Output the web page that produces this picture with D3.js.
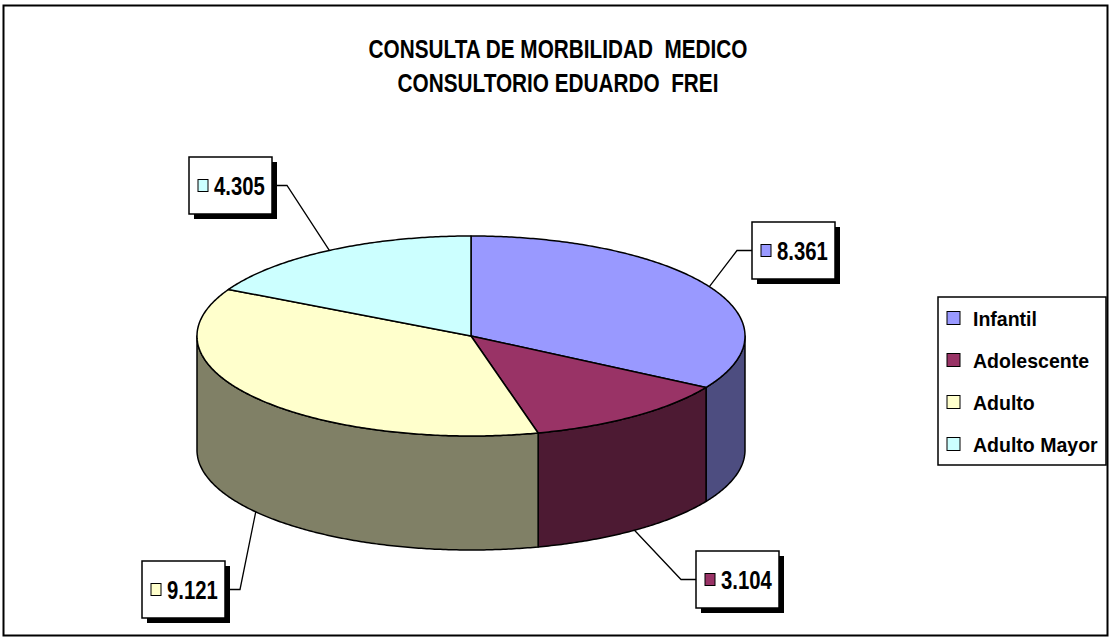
<!DOCTYPE html>
<html>
<head>
<meta charset="utf-8">
<script src="https://cdn.jsdelivr.net/npm/d3@7"></script>
<style>
  body { margin: 0; background: #fff; }
  text { font-family: 'Liberation Sans', Arial, sans-serif; font-weight: bold; fill: #000; white-space: pre; }
</style>
</head>
<body>
<svg id="chart" width="1113" height="638"></svg>
<script>
// data
var categories = ['Infantil', 'Adolescente', 'Adulto', 'Adulto Mayor'];
var values = [8361, 3104, 9121, 4305];
var valueLabels = ['8.361', '3.104', '9.121', '4.305'];
var titleLines = ['CONSULTA DE MORBILIDAD  MEDICO', 'CONSULTORIO EDUARDO  FREI'];

var topColors = ['#9999FF', '#993366', '#FFFFCC', '#CCFFFF'];
var sideColors = ['#4D4D80', '#4D1A33', '#808066', '#668080'];

// pie geometry (3d tilted disc)
var cx = 471, cy = 336, rx = 274, ry = 100, depth = 114;
// where the data label boxes sit (top-left corners)
var labelBoxes = [[752, 222], [696, 551], [142, 561], [189, 157]];
var boxW = 83, boxH = 57;

var svg = d3.select('#chart');

// outer frame
svg.append('rect')
  .attr('x', 3.5).attr('y', 5.5)
  .attr('width', 1104).attr('height', 630)
  .style('fill', '#fff').style('stroke', '#000').style('stroke-width', 2);

// title
svg.append('g').selectAll('text')
  .data(titleLines)
  .enter()
  .append('text')
  .attr('text-anchor', 'middle')
  .attr('transform', function (d, i) { return 'translate(558,' + (58 + i * 34) + ') scale(0.83,1)'; })
  .style('font-size', '25px')
  .text(function (d) { return d; });

// scales: unit circle -> ellipse on screen
var x = d3.scaleLinear().domain([-1, 1]).range([cx - rx, cx + rx]);
var y = d3.scaleLinear().domain([-1, 1]).range([cy - ry, cy + ry]);

function pt(a, dy) {
  return [x(Math.sin(a)), y(-Math.cos(a)) + (dy || 0)];
}
function arcPts(a0, a1, dy) {
  var n = Math.max(2, Math.ceil(Math.abs(a1 - a0) / 0.01));
  return d3.range(n + 1).map(function (i) { return pt(a0 + (a1 - a0) * i / n, dy); });
}

var arcs = d3.pie().sort(null).startAngle(0).endAngle(2 * Math.PI)(values);
var line = d3.line();

// side walls, only the front half (pi/2 .. 3pi/2) is visible
var sides = svg.append('g');
arcs.forEach(function (d, i) {
  var s = Math.max(d.startAngle, Math.PI / 2);
  var e = Math.min(d.endAngle, 3 * Math.PI / 2);
  if (e <= s) return;
  var pts = arcPts(s, e, 0).concat(arcPts(s, e, depth).reverse());
  sides.append('path')
    .attr('d', line(pts) + 'Z')
    .style('fill', sideColors[i])
    .style('stroke', '#000')
    .style('stroke-width', 1.5)
    .style('stroke-linejoin', 'round');
});

// top face
svg.append('g').selectAll('path')
  .data(arcs)
  .enter()
  .append('path')
  .attr('d', function (d) { return line([[cx, cy]].concat(arcPts(d.startAngle, d.endAngle, 0))) + 'Z'; })
  .style('fill', function (d, i) { return topColors[i]; })
  .style('stroke', '#000')
  .style('stroke-width', 1.5)
  .style('stroke-linejoin', 'round');

// data labels with leader lines
var labels = svg.append('g');
arcs.forEach(function (d, i) {
  var mid = (d.startAngle + d.endAngle) / 2;
  var front = mid > Math.PI / 2 && mid < 3 * Math.PI / 2;
  var anchor = pt(mid, front ? depth : 0);
  var bx = labelBoxes[i][0], by = labelBoxes[i][1];
  var my = by + boxH / 2;
  var edge, elbow;
  if (bx + boxW / 2 > anchor[0]) { edge = [bx, my]; elbow = [bx - 15, my]; }
  else { edge = [bx + boxW, my]; elbow = [bx + boxW + 15, my]; }

  labels.append('path')
    .attr('d', line([anchor, elbow, edge]))
    .style('fill', 'none').style('stroke', '#000').style('stroke-width', 1.3);

  labels.append('rect')
    .attr('x', bx + 5).attr('y', by + 5)
    .attr('width', boxW).attr('height', boxH)
    .style('fill', '#000');
  labels.append('rect')
    .attr('x', bx).attr('y', by)
    .attr('width', boxW).attr('height', boxH)
    .style('fill', '#fff').style('stroke', '#000').style('stroke-width', 1.5);
  labels.append('rect')
    .attr('x', bx + 9).attr('y', my - 6)
    .attr('width', 10).attr('height', 12)
    .style('fill', topColors[i]).style('stroke', '#000').style('stroke-width', 1);
  labels.append('text')
    .attr('transform', 'translate(' + (bx + 25) + ',' + (my + 9.5) + ') scale(0.78,1)')
    .style('font-size', '26px')
    .text(valueLabels[i]);
});

// legend
var legX = 938, legY = 297, legW = 168, legH = 168;
var rows = d3.scaleBand().domain(categories).range([legY, legY + legH]);
var legend = svg.append('g');
legend.append('rect')
  .attr('x', legX).attr('y', legY)
  .attr('width', legW).attr('height', legH)
  .style('fill', '#fff').style('stroke', '#000').style('stroke-width', 1.5);
legend.selectAll('rect.sw')
  .data(categories)
  .enter()
  .append('rect')
  .attr('class', 'sw')
  .attr('x', legX + 9)
  .attr('y', function (d) { return rows(d) + rows.bandwidth() / 2 - 6.5; })
  .attr('width', 13).attr('height', 13)
  .style('fill', function (d, i) { return topColors[i]; })
  .style('stroke', '#000').style('stroke-width', 1);
legend.selectAll('text')
  .data(categories)
  .enter()
  .append('text')
  .attr('transform', function (d) { return 'translate(' + (legX + 35) + ',' + (rows(d) + rows.bandwidth() / 2 + 7.5) + ') scale(0.93,1)'; })
  .style('font-size', '21px')
  .text(function (d) { return d; });
</script>
</body>
</html>
